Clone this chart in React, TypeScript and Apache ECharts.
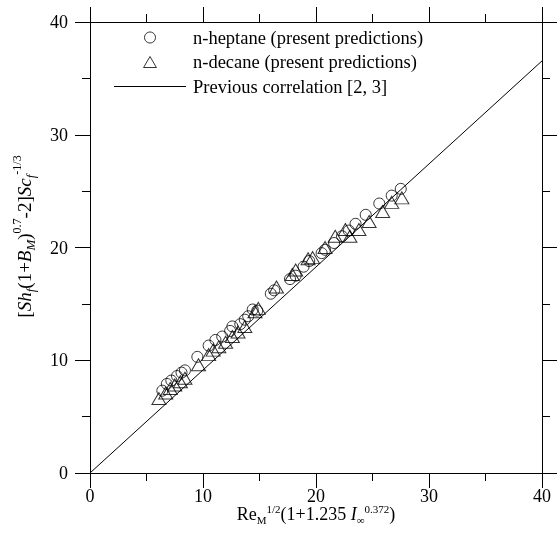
import React, { useEffect, useRef } from "react";
import * as echarts from "echarts";

const heptaneX = [6.4, 6.8, 7.2, 7.7, 8.1, 8.4, 9.5, 10.5, 11.1, 11.7, 12.4, 12.6, 13.3, 13.7, 14.0, 14.4, 14.8, 16.0, 16.3, 17.7, 18.2, 18.9, 19.4, 20.5, 20.8, 21.6, 22.3, 22.9, 23.5, 24.4, 25.6, 26.7, 27.5];
const heptaneY = [7.3, 7.9, 8.2, 8.6, 8.9, 9.1, 10.3, 11.3, 11.8, 12.1, 12.6, 13.0, 13.2, 13.6, 13.9, 14.5, 14.4, 15.9, 16.2, 17.2, 17.5, 18.3, 18.8, 19.5, 19.8, 20.4, 21.0, 21.5, 22.1, 22.9, 23.9, 24.6, 25.2];
const decaneX = [6.1, 6.7, 7.1, 7.5, 8.0, 8.4, 9.6, 10.5, 10.9, 11.4, 12.0, 12.6, 13.1, 13.7, 14.6, 14.9, 16.5, 17.9, 18.2, 19.3, 19.7, 20.8, 21.7, 22.6, 23.0, 23.8, 24.7, 25.9, 26.7, 27.6];
const decaneY = [6.6, 7.1, 7.5, 7.8, 8.1, 8.4, 9.6, 10.5, 10.9, 11.2, 11.6, 12.1, 12.5, 13.0, 14.3, 14.6, 16.5, 17.6, 18.0, 19.0, 19.1, 20.0, 21.0, 21.6, 21.0, 21.6, 22.3, 23.2, 24.0, 24.4];
const correlationX = [0, 40];
const correlationY = [0, 36.55];
const axisTicks = [0, 10, 20, 30, 40];

const seriesNames = [
  "n-heptane (present predictions)",
  "n-decane (present predictions)",
  "Previous correlation [2, 3]",
];

const FONT = "Liberation Serif";

export default function App() {
  const ref = useRef<HTMLDivElement>(null);
  useEffect(() => {
    if (!ref.current) return;
    const chart = echarts.init(ref.current, undefined, { renderer: "svg" });
    const zip = (xs: number[], ys: number[]) => xs.map((x, i) => [x, ys[i]]);
    const tickCommon = {
      axisLine: { show: true, onZero: false, lineStyle: { color: "#000", width: 1 } },
      axisTick: { show: true, length: 15, lineStyle: { color: "#000", width: 1 } },
      minorTick: { show: true, splitNumber: 2, length: 8, lineStyle: { color: "#000", width: 1 } },
      splitLine: { show: false },
      min: axisTicks[0],
      max: axisTicks[axisTicks.length - 1],
      interval: 10,
    };
    const labelStyle = { color: "#000", fontSize: 18, fontFamily: FONT };
    const markerStyle = { color: "rgba(0,0,0,0)", borderColor: "#000", borderWidth: 1 };
    const richX = {
      n: { fontSize: 18, fontFamily: FONT, color: "#000", lineHeight: 22 },
      i: { fontSize: 18, fontFamily: FONT, fontStyle: "italic", color: "#000", lineHeight: 22 },
      sub: { fontSize: 11, fontFamily: FONT, color: "#000", lineHeight: 11, verticalAlign: "bottom" },
      sup: { fontSize: 11, fontFamily: FONT, color: "#000", lineHeight: 11, verticalAlign: "top" },
    };
    const richY = {
      n: { fontSize: 19, fontFamily: FONT, color: "#000", lineHeight: 26 },
      i: { fontSize: 19, fontFamily: FONT, fontStyle: "italic", color: "#000", lineHeight: 26 },
      isub: { fontSize: 13, fontFamily: FONT, fontStyle: "italic", color: "#000", lineHeight: 13, verticalAlign: "bottom" },
      sup: { fontSize: 12, fontFamily: FONT, color: "#000", lineHeight: 13, verticalAlign: "top" },
    };
    chart.setOption({
      animation: false,
      textStyle: { fontFamily: FONT },
      grid: { left: 90, right: 15, top: 22, bottom: 66 },
      legend: {
        orient: "vertical",
        left: 114,
        top: 28,
        padding: 0,
        itemWidth: 72,
        itemHeight: 11,
        itemGap: 5.5,
        symbolKeepAspect: true,
        data: [
          { name: seriesNames[0], icon: "circle", itemStyle: markerStyle },
          { name: seriesNames[1], icon: "path://M0,12 L7,0 L14,12 Z", itemStyle: markerStyle },
          { name: seriesNames[2], icon: "path://M0,0 L72,0 L72,1 L0,1 Z", itemStyle: { color: "#000", borderWidth: 0 } },
        ],
        textStyle: { color: "#000", fontSize: 18.5, fontFamily: FONT, padding: [0, 0, 0, 2] },
      },
      xAxis: [
        {
          type: "value",
          position: "bottom",
          ...tickCommon,
          axisLabel: { ...labelStyle, margin: 16, lineHeight: 14 },
          name: "{n|Re}{sub|M}{sup|1/2}{n|(1+1.235 }{i|I}{sub|∞}{sup|0.372}{n|)}",
          nameLocation: "middle",
          nameGap: 30,
          nameMoveOverlap: false,
          nameTextStyle: { color: "#000", fontFamily: FONT, rich: richX },
        },
        {
          type: "value",
          position: "top",
          ...tickCommon,
          axisLabel: { show: false },
        },
      ],
      yAxis: [
        {
          type: "value",
          position: "left",
          ...tickCommon,
          axisLabel: { ...labelStyle, margin: 22 },
          name: "{n|[}{i|Sh}{isub|f}{n|(1+}{i|B}{isub|M}{n|)}{sup|0.7}{n|-2]}{i|Sc}{isub|f}{sup|-1/3}",
          nameLocation: "middle",
          nameRotate: 90,
          nameGap: 53,
          nameMoveOverlap: false,
          nameTextStyle: { color: "#000", fontFamily: FONT, rich: richY, padding: [0, 0, 0, 22] },
        },
        {
          type: "value",
          position: "right",
          ...tickCommon,
          axisLabel: { show: false },
        },
      ],
      series: [
        {
          name: seriesNames[2],
          type: "line",
          data: zip(correlationX, correlationY),
          symbol: "none",
          lineStyle: { color: "#000", width: 1 },
          itemStyle: { color: "#000" },
          z: 1,
        },
        {
          name: seriesNames[0],
          type: "scatter",
          data: zip(heptaneX, heptaneY),
          symbol: "circle",
          symbolSize: 11,
          itemStyle: markerStyle,
          z: 3,
        },
        {
          name: seriesNames[1],
          type: "scatter",
          data: zip(decaneX, decaneY),
          symbol: "triangle",
          symbolSize: [14, 12],
          itemStyle: markerStyle,
          z: 2,
        },
      ],
    });
    return () => chart.dispose();
  }, []);
  return <div ref={ref} style={{ position: "fixed", left: 0, top: 0, width: 557, height: 539 }} />;
}
